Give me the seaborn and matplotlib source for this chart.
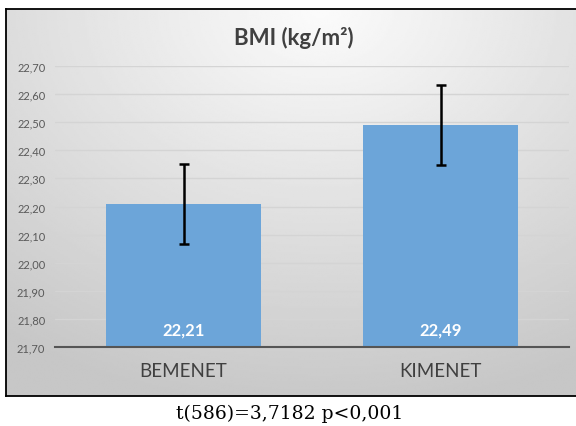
import numpy as np
import pandas as pd
import matplotlib
matplotlib.use("Agg")
import matplotlib.pyplot as plt
import seaborn as sns

categories = ["BEMENET", "KIMENET"]
means = [22.21, 22.49]
errors = [0.143, 0.143]
yticks = [21.70, 21.80, 21.90, 22.00, 22.10, 22.20, 22.30, 22.40, 22.50, 22.60, 22.70]
title = "BMI (kg/m²)"
footer = "t(586)=3,7182 p<0,001"

sns.set_theme(style="white")
plt.rcParams['font.family'] = ['Lato', 'DejaVu Sans']

W, H = 576, 427
fig = plt.figure(figsize=(W / 100, H / 100), dpi=100)
fig.patch.set_facecolor("white")

# chart box with gradient background
bx0, bx1, by0, by1 = 6, 578, 397, 10
bg = fig.add_axes([bx0 / W, 1 - by0 / H, (bx1 - bx0) / W, (by0 - by1) / H])
yy, xx = np.mgrid[0:1:200j, 0:1:300j]
d = np.sqrt(((xx - 0.55) * 1.0) ** 2 + ((yy - 0.0) * 0.9) ** 2)
vals = np.clip(0.985 - 0.22 * d, 0.78, 1.0)
bg.imshow(vals, cmap="gray", vmin=0, vmax=1, aspect="auto", extent=[0, 1, 1, 0],
          interpolation="bilinear")
bg.set_xlim(0, 1); bg.set_ylim(1, 0)
bg.set_xticks([]); bg.set_yticks([])
for s in ["top", "left", "bottom"]:
    bg.spines[s].set_visible(True)
    bg.spines[s].set_color("black")
    bg.spines[s].set_linewidth(1.3)
bg.spines["right"].set_visible(False)

# main plot axes
px0, px1, py_top, py_bot = 55, 569, 67, 348
ax = fig.add_axes([px0 / W, 1 - py_bot / H, (px1 - px0) / W, (py_bot - py_top) / H])
ax.set_facecolor("none")

df = pd.DataFrame({"cat": categories, "mean": means})
sns.barplot(data=df, x="cat", y="mean", ax=ax, color="#6ca5d9", width=0.6,
            errorbar=None, saturation=1, zorder=3, linewidth=0, edgecolor="none")
ax.errorbar(x=range(len(categories)), y=means, yerr=errors, fmt="none",
            ecolor="black", elinewidth=1.8, capsize=3.5, capthick=1.8, zorder=4)

ax.set_xlim(-0.5, len(categories) - 0.5)
ax.set_ylim(21.70, 22.70)
ax.set_yticks(yticks)
ax.set_yticklabels([f"{v:.2f}".replace(".", ",") for v in yticks], fontsize=8, color="#595959")
ax.yaxis.grid(True, color="#d4d4d4", linewidth=1.0, zorder=0)
ax.set_axisbelow(True)
ax.tick_params(axis="y", length=0, pad=7)
ax.tick_params(axis="x", length=0, pad=11, labelsize=13.5, labelcolor="#404040")
ax.set_xlabel(""); ax.set_ylabel("")
for s in ["top", "left", "right"]:
    ax.spines[s].set_visible(False)
ax.spines["bottom"].set_color("#555555")
ax.spines["bottom"].set_linewidth(1.5)
ax.spines["bottom"].set_zorder(5)

for i, v in enumerate(means):
    ax.text(i, 21.763, f"{v:.2f}".replace(".", ","), ha="center", va="center",
            color="white", fontsize=12, fontweight="bold", zorder=6)

fig.text(294 / W, 1 - 38 / H, title, ha="center", va="center", fontsize=16,
         fontweight="bold", color="#404040")
fig.text(290 / W, 1 - 414 / H, footer, ha="center", va="center", fontsize=13.5,
         family=["DejaVu Serif"], color="black")

fig.savefig("out.png", dpi=100)
